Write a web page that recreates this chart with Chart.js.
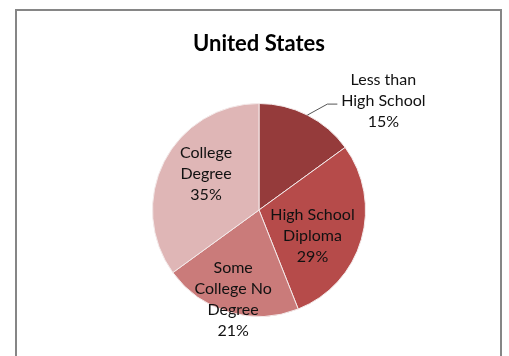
<!DOCTYPE html>
<html>
<head>
<meta charset="utf-8">
<script src="https://cdn.jsdelivr.net/npm/chart.js@4"></script>
<style>
  body { margin: 0; background: #fff; }
  #wrap { width: 509px; height: 356px; }
</style>
</head>
<body>
<div id="wrap"><canvas id="eduChart" width="509" height="356"></canvas></div>
<script>
const title = "United States";
const categories = [["Less than", "High School"], ["High School", "Diploma"], ["Some", "College No", "Degree"], ["College", "Degree"]];
const shares = [15, 29, 21, 35];
const sliceColors = ["#953b3b", "#b64b4a", "#ca7b7a", "#dfb6b6"];

// where each label sits: fraction of radius and angle nudge (deg); null = outside with leader
const labelPlace = [null, { r: 0.56, turn: 10 }, { r: 0.87, turn: 0 }, { r: 0.6, turn: 7 }];

const FONT = "Lato, 'Open Sans', sans-serif";

const framePlugin = {
  id: "frame",
  beforeDraw(chart) {
    const ctx = chart.ctx;
    ctx.save();
    ctx.fillStyle = "#fff";
    ctx.fillRect(0, 0, chart.width, chart.height);
    ctx.strokeStyle = "#868686";
    ctx.lineWidth = 2;
    ctx.strokeRect(16, 10, 485, 360);
    ctx.fillStyle = "#000";
    ctx.font = "bold 22px " + FONT;
    ctx.textAlign = "center";
    ctx.textBaseline = "middle";
    ctx.fillText(title, 259, 44);
    ctx.restore();
  }
};

const sliceLabels = {
  id: "sliceLabels",
  afterDatasetsDraw(chart) {
    const ctx = chart.ctx;
    const arcs = chart.getDatasetMeta(0).data;
    ctx.save();
    ctx.font = "16px " + FONT;
    ctx.fillStyle = "#111";
    ctx.textAlign = "center";
    ctx.textBaseline = "middle";
    const lh = 21;

    arcs.forEach((arc, i) => {
      const { x, y, startAngle, endAngle, outerRadius } = arc.getProps(["x", "y", "startAngle", "endAngle", "outerRadius"], true);
      const mid = (startAngle + endAngle) / 2;
      const lines = categories[i].concat(shares[i] + "%");
      const place = labelPlace[i];

      if (!place) {
        // leader line from the rim out to the label
        const ex = x + outerRadius * Math.cos(mid);
        const ey = y + outerRadius * Math.sin(mid);
        const kx = ex + 20, ky = ey - 11;
        ctx.strokeStyle = "#555";
        ctx.lineWidth = 1;
        ctx.beginPath();
        ctx.moveTo(ex, ey);
        ctx.lineTo(kx, ky);
        ctx.lineTo(kx + 10, ky);
        ctx.stroke();
        const cx = kx + 56;
        const top = ky - 24;
        lines.forEach((t, k) => ctx.fillText(t, cx, top + k * lh));
        return;
      }

      const a = mid + place.turn * Math.PI / 180;
      const cx = x + outerRadius * place.r * Math.cos(a);
      const cy = y + outerRadius * place.r * Math.sin(a);
      const top = cy - (lines.length - 1) * lh / 2;
      lines.forEach((t, k) => ctx.fillText(t, cx, top + k * lh));
    });
    ctx.restore();
  }
};

const ctx = document.getElementById("eduChart").getContext("2d");
new Chart(ctx, {
  type: "pie",
  data: {
    labels: categories.map(c => c.join(" ")),
    datasets: [{
      data: shares,
      backgroundColor: sliceColors,
      borderColor: "#f4eaea",
      borderWidth: 1
    }]
  },
  options: {
    responsive: false,
    animation: false,
    layout: { padding: { left: 152, right: 143, top: 103, bottom: 39 } },
    plugins: {
      legend: { display: false },
      tooltip: { enabled: false }
    }
  },
  plugins: [framePlugin, sliceLabels]
});
</script>
</body>
</html>
